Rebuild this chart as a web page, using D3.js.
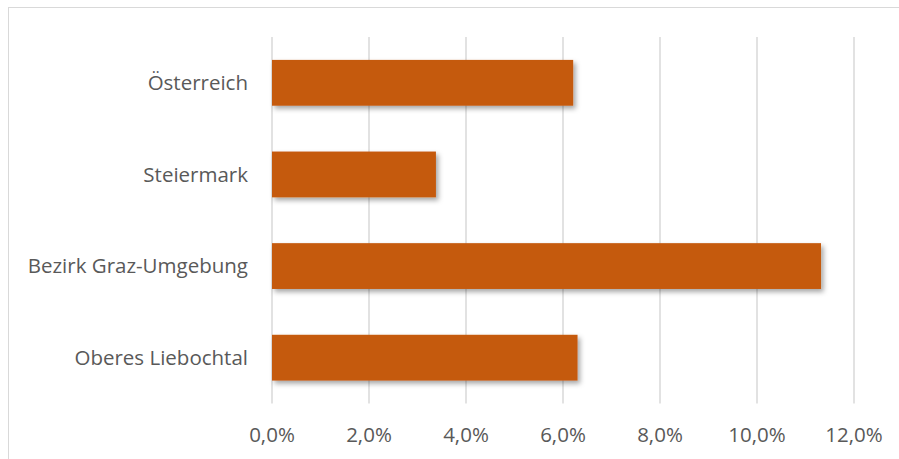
<!DOCTYPE html>
<html lang="de">
<head>
<meta charset="utf-8">
<script src="https://d3js.org/d3.v7.min.js"></script>
<style>
  body { margin: 0; background: #fff; }
  text { font-family: "Open Sans", "Noto Sans", sans-serif; fill: #595959; }
</style>
</head>
<body>
<script>
// data
const regions = ["Österreich", "Steiermark", "Bezirk Graz-Umgebung", "Oberes Liebochtal"];
const shares = [6.21, 3.38, 11.32, 6.30];
const xTicks = [0, 2, 4, 6, 8, 10, 12];

const width = 899, height = 459;
const plotLeft = 272, plotRight = 854, plotTop = 37, plotBottom = 403.5;

const svg = d3.select("body").append("svg")
  .attr("width", width)
  .attr("height", height);

// chart frame
svg.append("rect")
  .attr("x", 8.5).attr("y", 7.5)
  .attr("width", 900).attr("height", 470)
  .attr("fill", "#fff")
  .attr("stroke", "#d9d9d9").attr("stroke-width", 1);

// shadow for bars
const f = svg.append("defs").append("filter")
  .attr("id", "shadow")
  .attr("x", "-10%").attr("y", "-20%")
  .attr("width", "130%").attr("height", "160%");
f.append("feDropShadow")
  .attr("dx", 2.5).attr("dy", 3)
  .attr("stdDeviation", 2.5)
  .attr("flood-color", "#000").attr("flood-opacity", 0.35);

const x = d3.scaleLinear().domain([0, 12]).range([plotLeft, plotRight]);
const y = d3.scaleBand().domain(regions).range([plotTop, plotBottom])
  .paddingInner(0.5).paddingOuter(0.25);

// gridlines
svg.append("g")
  .selectAll("line")
  .data(xTicks)
  .join("line")
  .attr("x1", d => x(d)).attr("x2", d => x(d))
  .attr("y1", plotTop).attr("y2", plotBottom)
  .attr("stroke", "#d9d9d9").attr("stroke-width", 1.5);

// bars
svg.append("g")
  .selectAll("rect")
  .data(regions)
  .join("rect")
  .attr("x", x(0))
  .attr("y", d => y(d))
  .attr("width", (d, i) => x(shares[i]) - x(0))
  .attr("height", y.bandwidth())
  .attr("fill", "#c55a11")
  .attr("filter", "url(#shadow)");

// x axis labels
const fmt = d3.format(".1f");
svg.append("g")
  .selectAll("text")
  .data(xTicks)
  .join("text")
  .attr("x", d => x(d))
  .attr("y", 442)
  .attr("text-anchor", "middle")
  .style("font-size", "20.5px")
  .text(d => fmt(d).replace(".", ",") + "%");

// category labels
svg.append("g")
  .selectAll("text")
  .data(regions)
  .join("text")
  .attr("x", 248)
  .attr("y", d => y(d) + y.bandwidth() / 2)
  .attr("dy", "0.35em")
  .attr("text-anchor", "end")
  .style("font-size", "20.5px")
  .text(d => d);
</script>
</body>
</html>
